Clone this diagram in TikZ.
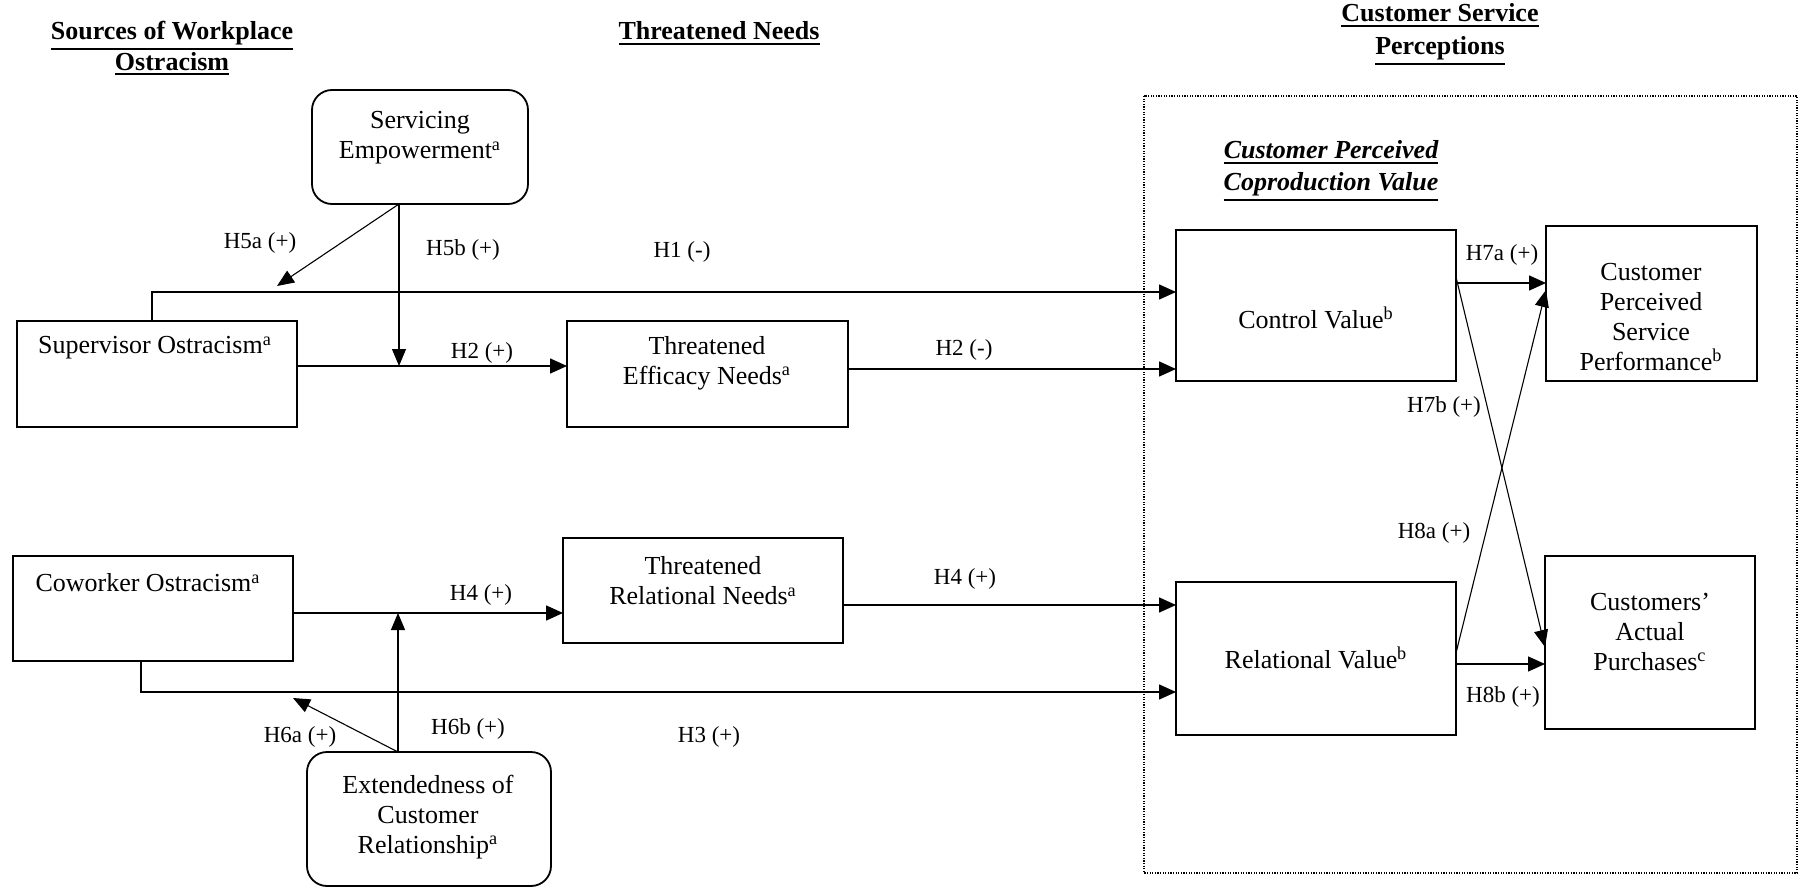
\documentclass[tikz,border=0pt]{standalone}
\usepackage{fontspec}
\setmainfont{Liberation Serif}
\usetikzlibrary{arrows.meta,positioning}
\newcommand{\hul}[1]{\leavevmode\vtop{\hbox{#1}\kern1.6pt\hrule height 0.9pt}}

\begin{document}
\begin{tikzpicture}[x=0.5pt,y=-0.5pt,
        box/.style={draw, line width=0.9pt, inner sep=0pt, outer sep=0pt},
        modbox/.style={box, rounded corners=10pt},
        txt/.style={align=center, font=\fontsize{13}{15}\selectfont, inner sep=0pt},
        head/.style={align=center, font=\fontsize{13}{15.5}\selectfont\bfseries, inner sep=0pt},
        hyp/.style={font=\fontsize{11.5}{13}\selectfont, inner sep=0pt},
        arr/.style={line width=0.8pt, -{Triangle[length=8.5pt,width=7.5pt]}},
        thinarr/.style={line width=0.55pt, -{Triangle[length=8.5pt,width=7pt]}}]
        \useasboundingbox (0,0) rectangle (1801,888);

        % Column headings
        \node[head] (hsrc) at (172,48) {\hul{Sources of Workplace}\\\hul{Ostracism}};
        \node[head] (hthr) at (719,33) {\hul{Threatened Needs}};
        \node[head] (hcsp) at (1440,34) {\hul{Customer Service}\\[1pt]\hul{Perceptions}};

        % Customer perceptions frame
        \draw[line width=0.6pt, dash pattern=on 0.6pt off 0.7pt] (1144,96) rectangle (1797,873);
        \node[head, font=\fontsize{13}{16}\selectfont\bfseries\itshape] (hcpv) at (1331,171)
            {\hul{Customer Perceived}\\\hul{Coproduction Value}};

        % Moderators
        \node[modbox, minimum width=108pt, minimum height=57pt] (se) at (420,147) {};
        \node[txt] (se-t) at (420,138) {Servicing\\Empowerment\textsuperscript{a}};
        \node[modbox, minimum width=122pt, minimum height=67pt] (ext) at (429,819) {};
        \node[txt] (ext-t) at (428,817) {Extendedness of\\Customer\\Relationship\textsuperscript{a}};

        % Sources of ostracism
        \node[box, minimum width=140pt, minimum height=53pt] (sup) at (157,374) {};
        \node[txt] (sup-t) at (155,348) {Supervisor Ostracism\textsuperscript{a}};
        \node[box, minimum width=140pt, minimum height=52.5pt] (cow) at (153,608.5) {};
        \node[txt] (cow-t) at (148,583) {Coworker Ostracism\textsuperscript{a}};

        % Threatened needs
        \node[box, minimum width=140.5pt, minimum height=53pt] (tef) at (707.5,374) {};
        \node[txt] (tef-t) at (707,363) {Threatened\\Efficacy Needs\textsuperscript{a}};
        \node[box, minimum width=140pt, minimum height=52.5pt] (trn) at (703,590.5) {};
        \node[txt] (trn-t) at (703,581) {Threatened\\Relational Needs\textsuperscript{a}};

        % Coproduction value
        \node[box, minimum width=140pt, minimum height=75.5pt] (cv) at (1316,305.5) {};
        \node[txt] (cv-t) at (1316,318) {Control Value\textsuperscript{b}};
        \node[box, minimum width=140pt, minimum height=76.5pt] (rv) at (1316,658.5) {};
        \node[txt] (rv-t) at (1316,658) {Relational Value\textsuperscript{b}};

        % Outcomes
        \node[box, minimum width=105.5pt, minimum height=77.5pt] (cpsp) at (1651.5,303.5) {};
        \node[txt] (cpsp-t) at (1651,317) {Customer\\Perceived\\Service\\Performance\textsuperscript{b}};
        \node[box, minimum width=105pt, minimum height=86.5pt] (cap) at (1650,642.5) {};
        \node[txt] (cap-t) at (1650,632) {Customers'\\Actual\\Purchases\textsuperscript{c}};

        % Helper points
        \coordinate (h1) at (152,292);
        \coordinate (h3) at (141,692);
        \coordinate (h5a) at (277,286);
        \coordinate (h6a) at (293,698);
        \coordinate (seo) at ([xshift=-10.5pt]se.south);
        \coordinate (exo) at ([xshift=-15.5pt]ext.north);
        \coordinate (h2l) at ([yshift=4pt]sup.east);
        \coordinate (h4l) at ([yshift=-2.25pt]cow.east);

        % Direct effects
        \draw[arr] (h1 |- sup.north) -- (h1) -- (h1 -| cv.west);
        \draw[arr] (h3 |- cow.south) -- (h3) -- (h3 -| rv.west);
        \draw[arr] (h2l) -- (h2l -| tef.west);
        \draw[arr] (h4l) -- (h4l -| trn.west);
        \draw[arr] ([yshift=2.5pt]tef.east) -- ([yshift=2.5pt]tef.east -| cv.west);
        \draw[arr] ([yshift=-7.25pt]trn.east) -- ([yshift=-7.25pt]trn.east -| rv.west);

        % Moderation
        \draw[thinarr] (seo) -- (h5a);
        \draw[thinarr] (seo) -- (seo |- h2l);
        \draw[thinarr] (exo) -- (h6a);
        \draw[thinarr] (exo) -- (exo |- h4l);

        % Value to outcomes
        \draw[arr] ([yshift=11.25pt]cv.east) -- ([yshift=11.25pt]cv.east -| cpsp.west);
        \draw[arr] ([yshift=-2.75pt]rv.east) -- ([yshift=-2.75pt]rv.east -| cap.west);
        \draw[thinarr] ([yshift=14.25pt]cv.east) -- ([yshift=-2.25pt]cap.west);
        \draw[thinarr] ([yshift=2.75pt]rv.east) -- ([yshift=6.75pt]cpsp.west);

        % Hypothesis labels
        \node[hyp] (l5a) at (260,243) {H5a (+)};
        \node[hyp] (l5b) at (463,250) {H5b (+)};
        \node[hyp] (l1) at (682,252) {H1 (-)};
        \node[hyp] (l2a) at (482,353) {H2 (+)};
        \node[hyp] (l2b) at (964,350) {H2 (-)};
        \node[hyp] (l4a) at (481,595) {H4 (+)};
        \node[hyp] (l4b) at (965,579) {H4 (+)};
        \node[hyp] (l6a) at (300,737) {H6a (+)};
        \node[hyp] (l6b) at (468,729) {H6b (+)};
        \node[hyp] (l3) at (709,737) {H3 (+)};
        \node[hyp] (l7a) at (1502,255) {H7a (+)};
        \node[hyp] (l7b) at (1444,407) {H7b (+)};
        \node[hyp] (l8a) at (1434,533) {H8a (+)};
        \node[hyp] (l8b) at (1503,697) {H8b (+)};
\end{tikzpicture}
\end{document}
